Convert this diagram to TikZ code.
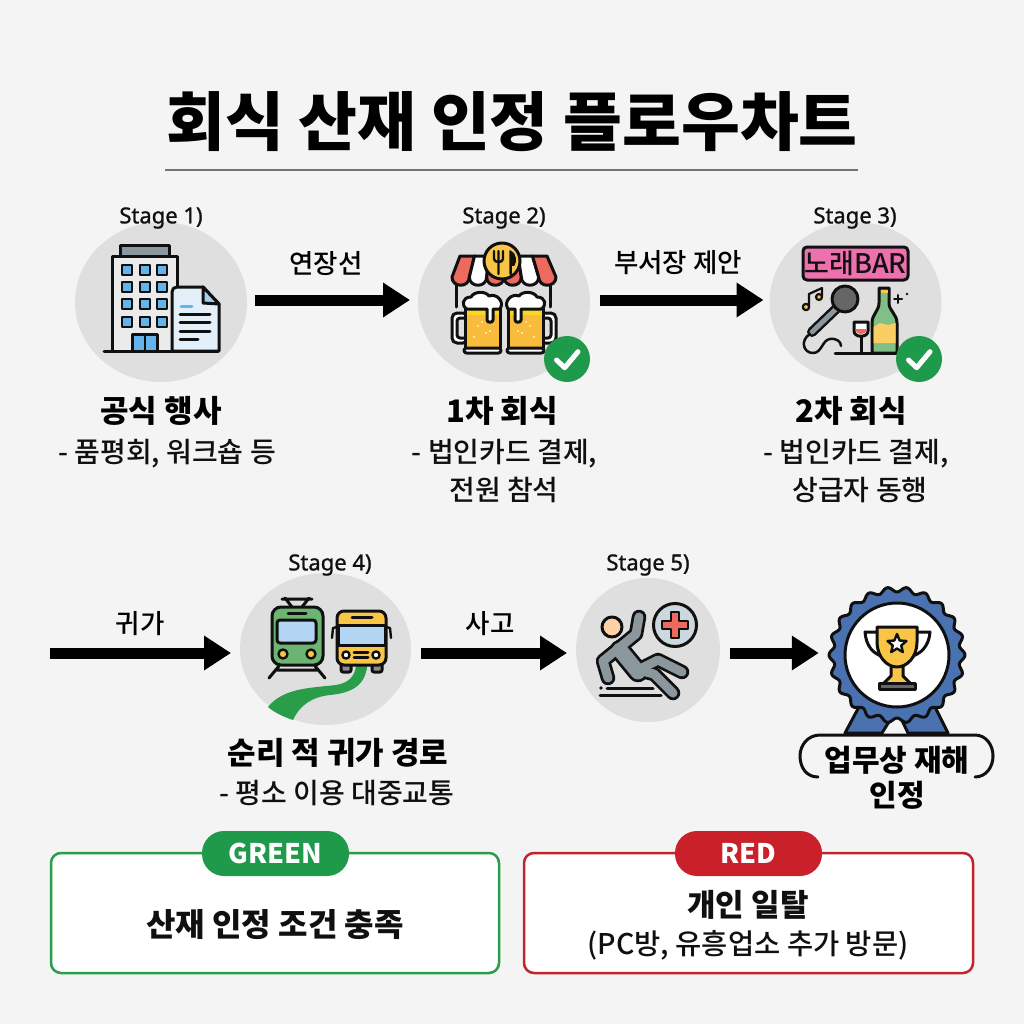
\documentclass[tikz,border=0pt]{standalone}
\usepackage{fontspec}
\usetikzlibrary{arrows.meta,shapes.geometric}
\setmainfont{Noto Sans CJK KR}
\newfontfamily\latinf{Noto Sans}[FakeBold=1.2]
\newfontfamily\medf{Noto Sans CJK KR Medium}
\newcommand{\fs}[1]{\fontsize{#1}{#1}\selectfont}
\definecolor{bg}{HTML}{F4F4F4}
\definecolor{disc}{HTML}{DFDFDF}
\definecolor{ink}{HTML}{101010}
\definecolor{okgreen}{HTML}{1F9A4A}
\definecolor{boxgreen}{HTML}{2A9D4A}
\definecolor{boxred}{HTML}{C0242C}
\definecolor{badgered}{HTML}{C9202A}
\definecolor{winblue}{HTML}{63B4E8}
\definecolor{paleblue}{HTML}{E3F0F9}
\definecolor{skyblue}{HTML}{B3D5F3}
\definecolor{awn}{HTML}{EE6A5F}
\definecolor{gold}{HTML}{F8C547}
\definecolor{beer}{HTML}{F9BB3C}
\definecolor{stone}{HTML}{8B969D}
\definecolor{medalblue}{HTML}{4A72B0}
\definecolor{pinkbar}{HTML}{EF70AE}
\definecolor{trainc}{HTML}{6CB472}
\tikzset{
 x=1pt,y=-1pt,
 disk/.style={ellipse,fill=disc,inner sep=0pt,outer sep=0pt},
 flow/.style={line width=11pt,draw=black,-{Triangle[length=27pt,width=33pt]}},
 stagelab/.style={font=\latinf\fs{22},text=ink,inner sep=0pt},
 edgelab/.style={font=\medf\fs{26.5},text=black,inner sep=0pt},
 headlab/.style={font=\bfseries\fs{31},text=black,inner sep=0pt},
 sublab/.style={font=\medf\fs{28},text=ink,inner sep=0pt},
 ic/.style={draw=ink,line width=3pt,line join=round,line cap=round},
 badge/.style={rounded corners=22pt,inner sep=0pt,minimum width=147pt,minimum height=45pt,text=white,font=\bfseries\fs{27}},
 panel/.style={draw,line width=2.5pt,fill=white,rounded corners=10pt},
}
\newcommand{\okmark}[3]{\node[circle,fill=okgreen,minimum size=46pt,inner sep=0pt] (#1) at (#2,#3) {};
 \begin{scope}[shift={(#2,#3)}]\draw[white,line width=5pt,line cap=round,line join=round] (-10.5,1) -- (-2.3,8.7) -- (11,-7.3);\end{scope}}
\newcommand{\mugicon}{%
 \draw[ic,fill=white,rounded corners=5pt] (452,313) rectangle (468,343);
 \draw[ic,fill=disc,rounded corners=3pt] (457,318) rectangle (468,338);
 \fill[beer] (465,308) rectangle (500,348);
 \fill[yellow!50!beer] (465,308) rectangle (500,315);
 \draw[ic] (465,308) -- (465,348) (500,308) -- (500,348);
 \fill[white!70!yellow] (478,326) circle (1.2) (486,333) circle (1.2) (474,337) circle (1.2) (482,322) circle (1) (490,331) circle (1.2);
 \draw[ic,fill=white,rounded corners=2.5pt] (464,348) rectangle (501,353);
 \draw[ic,fill=white] (467,309) .. controls (461,306) and (462,297) .. (471,297) .. controls (474,291) and (486,291) .. (489,296) .. controls (496,293) and (505,301) .. (500,309) -- (493,309) -- (493,320) .. controls (493,323) and (487,323) .. (487,320) -- (487,309) -- cycle;
}
\begin{document}
\begin{tikzpicture}
\useasboundingbox (0,0) rectangle (1024,1024);
\fill[bg] (0,0) rectangle (1024,1024);
% title
\node[font=\bfseries\fs{64},text=black,inner sep=0pt] (title) at (512,122) {회식 산재 인정 플로우차트};
\coordinate (ruleL) at (165,170);
\coordinate (ruleR) at (858,170);
\draw[line width=1.6pt,draw=black!55] (ruleL) -- (ruleR);
% discs
\node[disk,minimum width=172pt,minimum height=160pt] (c1) at (161,302) {};
\node[disk,minimum width=172pt,minimum height=160pt] (c2) at (504,302) {};
\node[disk,minimum width=172pt,minimum height=160pt] (c3) at (855.5,302) {};
\node[disk,minimum width=171pt,minimum height=152pt] (c4) at (325.5,649) {};
\node[disk,minimum width=144pt,minimum height=144pt] (c5) at (648,650) {};
\node[circle,minimum size=138pt,inner sep=0pt] (medal) at (897,655) {};
\coordinate (start) at (50,653);
% connectors
\draw[flow,shorten <=8pt,shorten >=8pt] ([yshift=2pt]c1.east) -- ([yshift=2pt]c2.west);
\draw[flow,shorten <=10pt,shorten >=6pt] ([yshift=2pt]c2.east) -- ([yshift=2pt]c3.west);
\draw[flow,shorten >=9pt] (start) -- ([yshift=-4pt]c4.west);
\draw[flow,shorten <=10pt,shorten >=9pt] ([yshift=-4pt]c4.east) -- ([yshift=-3pt]c5.west);
\draw[flow,shorten <=10pt,shorten >=9pt] ([yshift=-3pt]c5.east) -- (medal.west|-start);
% building
\draw[ic,fill=stone] (120,245) rectangle (169,256);
\draw[ic,fill=black!8] (177,351) -- (177,256) -- (112,256) -- (112,351);
\foreach \wx in {122,140,157}\foreach \wy in {265,282,299,317}{\draw[ic,fill=winblue,line width=2.6pt] (\wx,\wy) rectangle +(10,10);}
\draw[ic,fill=winblue] (132,351) -- (132,334) -- (157,334) -- (157,351);
\draw[ic,line width=2pt] (145,334) -- (145,351);
\draw[ic,fill=paleblue] (219,351) -- (172,351) -- (172,292) .. controls (172,289) and (174,287) .. (177,287) -- (203,287) -- (219,304) -- cycle;
\draw[ic,fill=winblue!60] (203,287) -- (203,303) -- (219,304) -- cycle;
\draw[ic,draw=winblue] (181,306) -- (192,306);
\draw[ic] (180,314) -- (210,314) (180,322) -- (210,322) (180,331) -- (210,331) (180,339) -- (198,339);
\draw[ic] (104,351) -- (218,351);
% pub
\draw[ic] (456,278) -- (456,307) (550,278) -- (550,307);
\foreach \i/\cc in {0/awn,1/white,2/awn,3/awn,4/white,5/awn}{
 \pgfmathsetmacro{\ta}{460+14.5*\i}\pgfmathsetmacro{\tb}{460+14.5*(\i+1)}
 \pgfmathsetmacro{\ba}{452+17.33*\i}\pgfmathsetmacro{\bb}{452+17.33*(\i+1)}
 \draw[ic,fill=\cc] (\ta,256) -- (\tb,256) -- (\bb,277) .. controls (\bb,288) and (\ba,288) .. (\ba,277) -- cycle;
}
\draw[ic,fill=gold] (502,261) circle (18);
\draw[ic,line width=2.4pt] (494,251) -- (494,259) .. controls (494,263) and (503,263) .. (503,259) -- (503,251) (498.5,251) -- (498.5,274);
\draw[ic,fill=ink,line width=1.5pt] (510,251) .. controls (516,253) and (516,262) .. (514,265) -- (511,265) -- (511,274) -- (510,274) -- cycle;
\mugicon
\begin{scope}[shift={(1008,0)},xscale=-1]\mugicon\end{scope}
\okmark{ok1}{567}{359}
% karaoke
\draw[ic,fill=pinkbar,rounded corners=4pt] (803,247) rectangle (908,280);
\node[font=\medf\fs{27},text=ink,inner sep=0pt] (barsign) at (855.5,263.5) {노래BAR};
\draw[ic,line width=2.2pt,fill=gold] (806,307) circle (3.2) (819,297) circle (3);
\draw[ic,line width=2.2pt] (809,306) -- (809,294) -- (822,288) -- (822,296);
\draw[ic,line width=10pt] (812,332) -- (836,309);
\draw[stone,line width=5pt,line cap=round] (812,332) -- (836,309);
\draw[ic,fill=black!60] (845,299) circle (13);
\draw[ic,line width=2.5pt] (810,334) .. controls (800,340) and (803,353) .. (813,353) .. controls (822,353) and (822,340) .. (830,339) .. controls (837,338) and (841,342) .. (841,346);
\draw[ic,fill=white] (854,322) -- (868,322) -- (868,331) .. controls (868,338) and (854,338) .. (854,331) -- cycle;
\fill[awn] (855.5,329) -- (866.5,329) .. controls (866.5,336) and (855.5,336) .. (855.5,329);
\draw[ic] (861,337) -- (861,353);
\draw[ic,fill=trainc!85] (879,288) -- (889,288) -- (889,303) .. controls (889,311) and (897,314) .. (897,323) -- (897,353) -- (872,353) -- (872,323) .. controls (872,314) and (879,311) .. (879,303) -- cycle;
\fill[gold!85] (873.5,327) -- (880,323) -- (888,325) -- (895.5,323) -- (895.5,343) -- (873.5,343) -- cycle;
\fill[gold] (880.5,289.5) rectangle (887.5,293);
\draw[ic] (835,353) -- (897,353);
\draw[ic,line width=2pt] (894,299) -- (902,299) (898,295) -- (898,303);
\fill[ink] (907,294) circle (1.4);
\okmark{ok2}{919}{359}
% road
\fill[boxgreen] (356,665) .. controls (355,677) and (348,683) .. (336,685) .. controls (310,688) and (283,688) .. (268,707) .. controls (275,713) and (284,717) .. (293,720) .. controls (300,705) and (312,697) .. (330,695) .. controls (352,693) and (366,685) .. (367,665) -- cycle;
% train
\draw[ic] (292,607) -- (285,598) (302,607) -- (309,598) (282,599) -- (312,599);
\draw[ic] (279,666) -- (269,678) (315,666) -- (325,678) (277,670) -- (317,670);
\draw[ic,fill=trainc,rounded corners=9pt] (272,665) rectangle (323,607);
\draw[ic] (288,613) -- (306,613);
\draw[ic,fill=skyblue,rounded corners=3pt] (277,620) rectangle (316,643);
\draw[ic,fill=gold,line width=2.4pt] (283,654) circle (4.5) (311,654) circle (4.5);
% bus
\draw[ic,fill=black!45,rounded corners=2pt] (341,663) rectangle (351,672);
\draw[ic,fill=black!45,rounded corners=2pt] (372,663) rectangle (382,672);
\draw[ic,line width=2.4pt] (337,627) -- (333,628) -- (332,638) (386,627) -- (390,628) -- (391,638);
\draw[ic,fill=gold,rounded corners=7pt] (337,665) rectangle (386,611);
\draw[ic,fill=skyblue] (338,625) rectangle (385,645);
\draw[ic] (352,617) -- (372,617) (354,652) -- (368,652) (354,657) -- (368,657);
\draw[ic,fill=white,line width=2.4pt] (346,655) circle (3.6) (376,655) circle (3.6);
\fill[boxgreen] (356,666.5) rectangle (367,670);
% falling person
\foreach \lw/\cc in {14.5/ink,9/stone}{
 \draw[\cc,line width=\lw pt,line cap=round,line join=round] (639,617) -- (636,634) -- (619,648) -- (603,661) -- (608,678);
 \draw[\cc,line width=\lw pt,line cap=round,line join=round] (640,669) -- (658,660) -- (682,672);
 \draw[\cc,line width=\lw pt,line cap=round,line join=round] (642,671) -- (654,674) -- (673,693);
 \draw[\cc,line width=\lw+6 pt,line cap=round,line join=round] (620,650) -- (638,672);
}
\draw[ic,fill=orange!35!white] (612,627) circle (10);
\draw[ic,fill=paleblue!90!black] (675,625) circle (21.5);
\draw[ic,fill=awn,line width=2.4pt] (671,612) -- (679,612) -- (679,621) -- (688,621) -- (688,629) -- (679,629) -- (679,638) -- (671,638) -- (671,629) -- (662,629) -- (662,621) -- (671,621) -- cycle;
\draw[ic] (607,688) -- (653,688) (600,695) -- (661,695);
\fill[ink] (601,688) circle (1.8);
% medal
\draw[ic,fill=medalblue] (860,705) -- (845,733) -- (882,733) -- (895,712) -- cycle;
\draw[ic,fill=medalblue] (934,705) -- (948,733) -- (908,733) -- (898,712) -- cycle;
\draw[ic,fill=medalblue] plot[domain=0:360,samples=361,variable=\t] ({897+(65.5+2.5*cos(22*\t))*cos(\t)},{655+(65.5+2.5*cos(22*\t))*sin(\t)}) -- cycle;
\draw[ic,fill=white] (897,655) circle (52);
% trophy
\draw[ic,fill=white] (877,632) -- (865,632) .. controls (866,646) and (873,654) .. (884,657);
\draw[ic,fill=white] (917,632) -- (930,632) .. controls (929,646) and (921,654) .. (910,657);
\fill[gold] (891,667) -- (903,667) -- (903,676) -- (910,683) -- (884,683) -- (891,676) -- cycle;
\draw[ic] (891,667) -- (891,676) -- (884,683) (903,667) -- (903,676) -- (910,683);
\draw[ic,fill=gold] (877,627) -- (917,627) -- (917,642) .. controls (917,657) and (907,667) .. (897,667) .. controls (887,667) and (877,657) .. (877,642) -- cycle;
\draw[ic,fill=white,line width=2.4pt] (897,634) -- (899.6,640.5) -- (906.5,641) -- (901.2,645.5) -- (902.9,652.2) -- (897,648.5) -- (891.1,652.2) -- (892.8,645.5) -- (887.5,641) -- (894.4,640.5) -- cycle;
\draw[ic,fill=black!60] (879,683) rectangle (915,689);
% pill
\draw[ic,fill=none] (818,777) .. controls (806,777) and (800,767) .. (800,756) .. controls (800,745) and (808,735) .. (820,735) -- (975,735) .. controls (986,735) and (993,745) .. (993,756) .. controls (993,767) and (986,777) .. (975,777);
% stage labels
\node[stagelab] (s1) at (161,218) {Stage 1)};
\node[stagelab] (s2) at (504,218) {Stage 2)};
\node[stagelab] (s3) at (855,218) {Stage 3)};
\node[stagelab] (s4) at (330,565) {Stage 4)};
\node[stagelab] (s5) at (648,565) {Stage 5)};
% edge labels
\node[edgelab] (e1) at (326,264) {연장선};
\node[edgelab] (e2) at (678,263) {부서장 제안};
\node[edgelab] (e3) at (140,624) {귀가};
\node[edgelab] (e4) at (490,624) {사고};
% headings
\node[headlab] (h1) at (161,411) {공식 행사};
\node[sublab] (t1) at (167,454) {- 품평회, 워크숍 등};
\node[headlab] (h2) at (502,411) {1차 회식};
\node[sublab] (t2) at (504.5,454) {- 법인카드 결제,};
\node[sublab] (t2b) at (504,490) {전원 참석};
\node[headlab] (h3) at (851,411) {2차 회식};
\node[sublab] (t3) at (856,454) {- 법인카드 결제,};
\node[sublab] (t3b) at (860,490) {상급자 동행};
\node[headlab] (h4) at (338,753) {순리 적 귀가 경로};
\node[sublab] (t4) at (337,793) {- 평소 이용 대중교통};
\node[headlab,font=\bfseries\fs{30}] (h6) at (897,760) {업무상 재해};
\node[headlab,font=\bfseries\fs{30}] (h6b) at (897,795) {인정};
% panels
\draw[panel,draw=boxgreen] (51,853) rectangle (499,973);
\draw[panel,draw=boxred] (524,853) rectangle (973,973);
\node[badge,fill=okgreen] (bg1) at (275.5,853.5) {GREEN};
\node[badge,fill=badgered] (bg2) at (748.5,853.5) {RED};
\node[font=\bfseries\fs{32},text=ink,inner sep=0pt] (p1) at (275,925) {산재 인정 조건 충족};
\node[font=\bfseries\fs{31},text=ink,inner sep=0pt] (p2) at (748,905) {개인 일탈};
\node[font=\medf\fs{28.5},text=ink,inner sep=0pt] (p3) at (748,945) {(PC방, 유흥업소 추가 방문)};
\end{tikzpicture}
\end{document}
